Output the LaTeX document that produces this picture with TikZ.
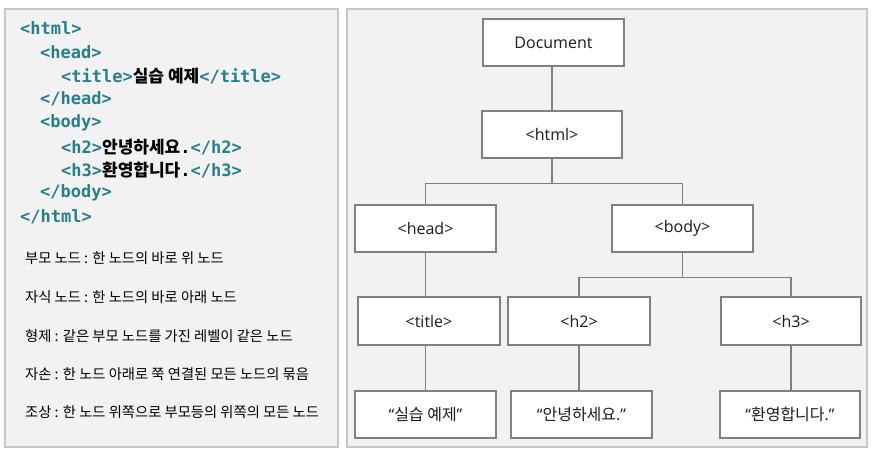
\documentclass[tikz,border=0pt]{standalone}
\usepackage{fontspec}
\setmainfont{Open Sans}
\newfontfamily\kor{Noto Sans CJK KR}
\newfontfamily\codefont{DejaVu Sans Mono}
\definecolor{domcolor0000}{RGB}{242,242,242}
\definecolor{domcolor0001}{RGB}{198,198,198}
\definecolor{domcolor0002}{RGB}{128,128,128}
\definecolor{domcolor0003}{RGB}{28,28,28}
\definecolor{domcolor0004}{RGB}{38,128,140}

\begin{document}
\begin{tikzpicture}[yscale=-1
                ,panel/.style={color=domcolor0001,fill=domcolor0000,line width=1.5pt}
                ,treebox/.style={draw=domcolor0002,fill=white,line width=1.2pt,text=domcolor0003,font=\fontsize{16}{19}\selectfont,inner sep=0pt}
                ,conn/.style={color=domcolor0002,line width=1.2pt}
                ,codeline/.style={anchor=west,inner sep=0pt,color=domcolor0004,font=\codefont\bfseries\fontsize{17}{20}\selectfont}
                ,noteline/.style={anchor=west,inner sep=0pt,color=black,font=\kor\fontsize{14.3}{17}\selectfont}
            ]
            \useasboundingbox (0pt,0pt) rectangle (877pt,456pt);
            % panels
            \draw[panel] (5pt,9pt) rectangle (338pt,447pt);
            \draw[panel] (347pt,9pt) rectangle (867pt,447pt);
            % source listing
            \node (c1) at (20pt,28pt)[codeline]{<html>};
            \node (c2) at (40pt,52pt)[codeline]{<head>};
            \node (c3) at (61pt,76pt)[codeline]{<title>{\kor\color{black}실습 예제}</title>};
            \node (c4) at (40pt,99pt)[codeline]{</head>};
            \node (c5) at (40pt,123pt)[codeline]{<body>};
            \node (c6) at (61pt,147pt)[codeline]{<h2>{\kor\color{black}안녕하세요}{\color{black}.}</h2>};
            \node (c7) at (61pt,170pt)[codeline]{<h3>{\kor\color{black}환영합니다}{\color{black}.}</h3>};
            \node (c8) at (40pt,193pt)[codeline]{</body>};
            \node (c9) at (20pt,217pt)[codeline]{</html>};
            % terms
            \node (n1) at (25pt,258pt)[noteline]{부모 노드 : 한 노드의 바로 위 노드};
            \node (n2) at (25pt,297pt)[noteline]{자식 노드 : 한 노드의 바로 아래 노드};
            \node (n3) at (25pt,336pt)[noteline]{형제 : 같은 부모 노드를 가진 레벨이 같은 노드};
            \node (n4) at (25pt,374pt)[noteline]{자손 : 한 노드 아래로 쭉 연결된 모든 노드의 묶음};
            \node (n5) at (25pt,412pt)[noteline]{조상 : 한 노드 위쪽으로 부모등의 위쪽의 모든 노드};
            % tree
            \node (doc) at (553.5pt,42.5pt)[treebox,minimum width=141pt,minimum height=47pt]{Document};
            \node (html) at (552pt,134.5pt)[treebox,minimum width=140pt,minimum height=47pt]{<html>};
            \node (head) at (425.5pt,228.5pt)[treebox,minimum width=141pt,minimum height=47pt]{<head>};
            \node (body) at (682.5pt,228.5pt)[treebox,minimum width=141pt,minimum height=47pt]{<body>};
            \node (title) at (429pt,321pt)[treebox,minimum width=142pt,minimum height=48pt]{<title>};
            \node (h2) at (579pt,321pt)[treebox,minimum width=142pt,minimum height=48pt]{<h2>};
            \node (h3) at (791pt,321pt)[treebox,minimum width=140pt,minimum height=48pt]{<h3>};
            \node (ttitle) at (425.5pt,414.5pt)[treebox,minimum width=141pt,minimum height=47pt]{“{\kor 실습 예제}”};
            \node (th2) at (581.5pt,414.5pt)[treebox,minimum width=141pt,minimum height=47pt]{“{\kor 안녕하세요}.”};
            \node (th3) at (790pt,414.5pt)[treebox,minimum width=140pt,minimum height=47pt]{“{\kor 환영합니다}.”};
            \draw[conn] (html.north |- doc.south) -- (html.north);
            \draw[conn] (html.south) -- ++(0pt,25pt) -| (head.north);
            \draw[conn] (html.south) -- ++(0pt,25pt) -| (body.north);
            \draw[conn] (head.south) -- (head.south |- title.north);
            \draw[conn] (body.south) -- ++(0pt,25pt) -| (h2.north);
            \draw[conn] (body.south) -- ++(0pt,25pt) -| (h3.north);
            \draw[conn] (ttitle.north |- title.south) -- (ttitle.north);
            \draw[conn] (h2.south) -- (h2.south |- th2.north);
            \draw[conn] (h3.south) -- (h3.south |- th3.north);
        \end{tikzpicture}
\end{document}
